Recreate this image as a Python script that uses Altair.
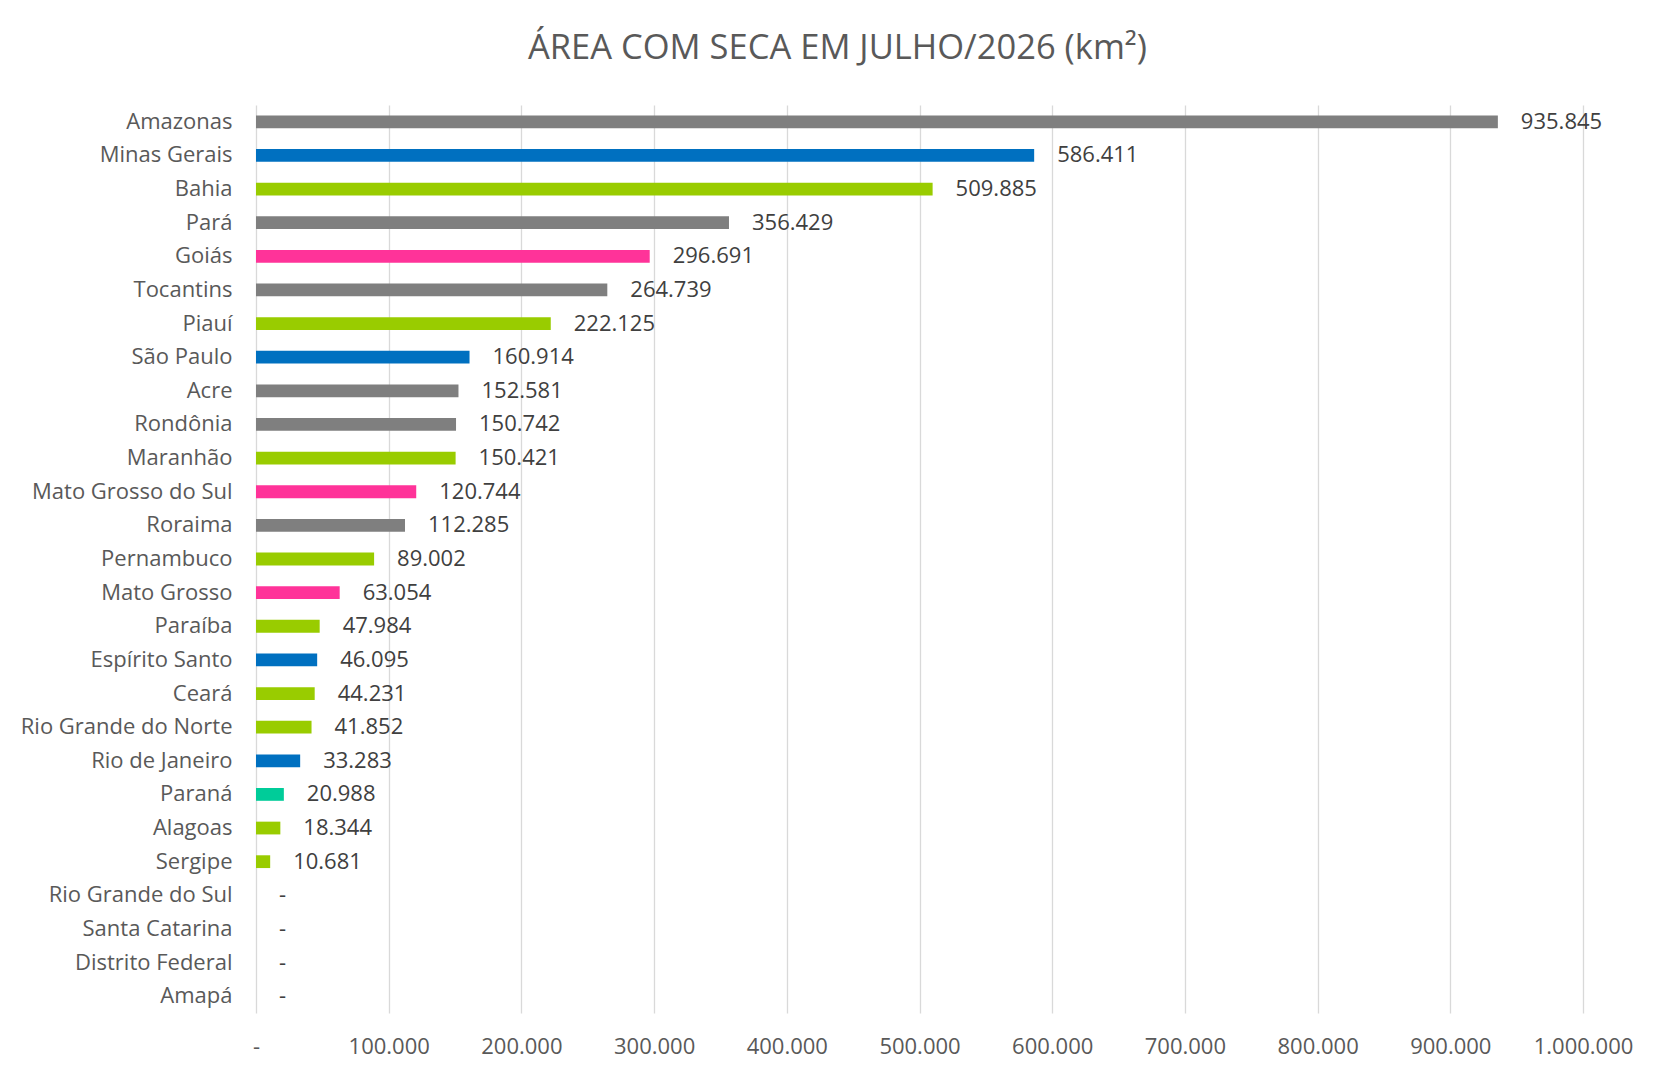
import altair as alt
import pandas as pd

states = ["Amazonas", "Minas Gerais", "Bahia", "Pará", "Goiás", "Tocantins", "Piauí",
          "São Paulo", "Acre", "Rondônia", "Maranhão", "Mato Grosso do Sul", "Roraima",
          "Pernambuco", "Mato Grosso", "Paraíba", "Espírito Santo", "Ceará",
          "Rio Grande do Norte", "Rio de Janeiro", "Paraná", "Alagoas", "Sergipe",
          "Rio Grande do Sul", "Santa Catarina", "Distrito Federal", "Amapá"]
values = [935845, 586411, 509885, 356429, 296691, 264739, 222125,
          160914, 152581, 150742, 150421, 120744, 112285,
          89002, 63054, 47984, 46095, 44231,
          41852, 33283, 20988, 18344, 10681,
          0, 0, 0, 0]
regions = ["N", "SE", "NE", "N", "CO", "N", "NE",
           "SE", "N", "N", "NE", "CO", "N",
           "NE", "CO", "NE", "SE", "NE",
           "NE", "SE", "S", "NE", "NE",
           "S", "S", "CO", "N"]
region_names = ["N", "SE", "NE", "CO", "S"]
region_colors = ["#7F7F7F", "#0070C0", "#99CC00", "#FF3399", "#00CC99"]
x_ticks = [0, 100000, 200000, 300000, 400000, 500000, 600000, 700000, 800000, 900000, 1000000]

labels = [f"{v:,}".replace(",", ".") if v else "-" for v in values]
df = pd.DataFrame({"state": states, "value": values, "region": regions, "label": labels})

FONT = "Open Sans"
TXT = "#595959"

y_enc = alt.Y("state:N", sort=states, title=None,
              scale=alt.Scale(paddingInner=0.62, paddingOuter=0.31),
              axis=alt.Axis(domain=False, ticks=False, labelPadding=24,
                            labelFontSize=22, labelColor=TXT, labelFont=FONT,
                            labelLimit=400, grid=False))
x_enc = alt.X("value:Q", title=None,
              scale=alt.Scale(domain=[0, 1000000], nice=False),
              axis=alt.Axis(values=x_ticks, domain=False, ticks=False,
                            grid=True, gridColor="#D9D9D9", gridWidth=1.3,
                            labelPadding=23, labelFontSize=22, labelColor=TXT,
                            labelFont=FONT, labelOverlap=False, labelFlush=False,
                            labelExpr="datum.value == 0 ? '-' : join(split(format(datum.value, ',d'), ','), '.')"))

bars = alt.Chart(df).mark_bar().encode(
    y=y_enc,
    x=x_enc,
    color=alt.Color("region:N", scale=alt.Scale(domain=region_names, range=region_colors),
                    legend=None),
)

text = alt.Chart(df).mark_text(align="left", baseline="middle", dx=23,
                               fontSize=22, font=FONT, color="#404040").encode(
    y=alt.Y("state:N", sort=states),
    x=alt.X("value:Q"),
    text="label:N",
)

chart = alt.layer(bars, text).properties(
    width=1327,
    height=908,
    title=alt.TitleParams("ÁREA COM SECA EM JULHO/2026 (km²)", font=FONT, fontSize=34.5,
                          fontWeight="normal", color=TXT, anchor="middle", frame="group",
                          dx=-82, baseline="alphabetic", offset=12),
    autosize=alt.AutoSizeParams(type="none"),
    padding={"left": 248, "top": 97, "right": 83, "bottom": 59},
).configure(background="white", font=FONT, view=alt.ViewConfig(stroke=None))

chart.save("out.html", embed_options={"renderer": "svg", "actions": False})
